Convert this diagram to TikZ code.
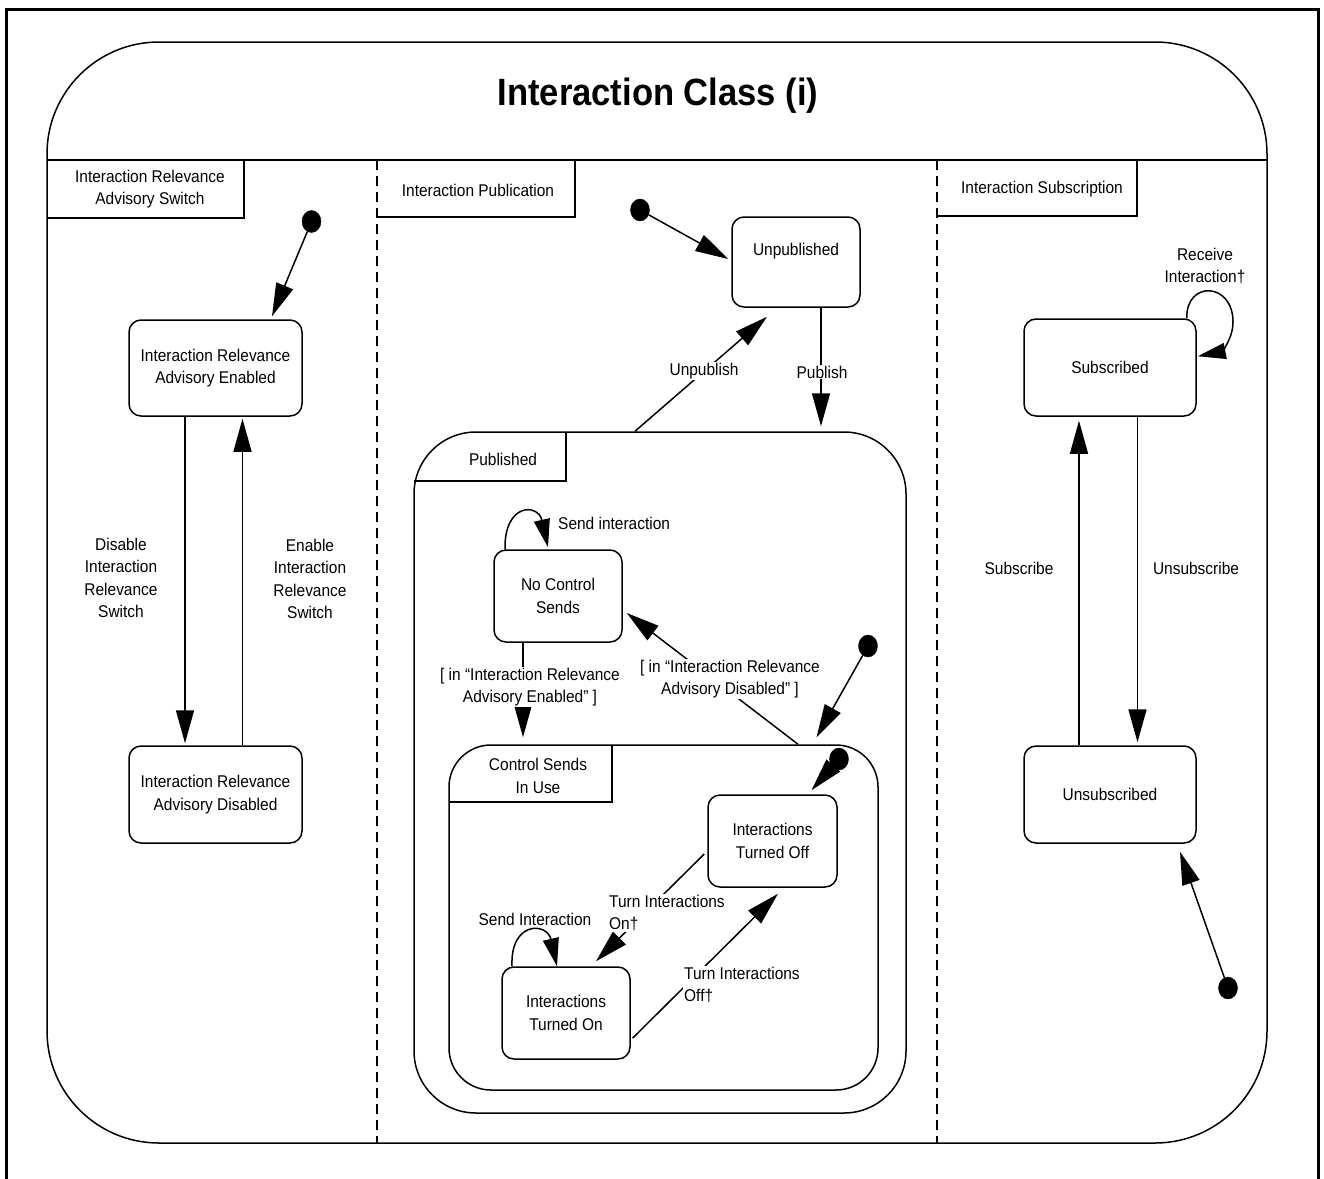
\documentclass[tikz,border=0pt]{standalone}
\usepackage{fontspec}
\setmainfont{Liberation Sans}[FakeStretch=0.91]
\usetikzlibrary{arrows.meta,shapes.geometric}
\newcommand\lblfont{\fontsize{17}{22.5}\selectfont}
\begin{document}
\begin{tikzpicture}[x=1pt,y=-1pt,
  statebox/.style={draw, line width=1.5pt, rounded corners=12pt, inner sep=0pt, align=center, font=\lblfont},
  compound/.style={draw, line width=1.5pt, inner sep=0pt},
  initdot/.style={ellipse, fill=black, draw=black, minimum width=19pt, minimum height=22pt, inner sep=0pt},
  trans/.style={line width=1.5pt, -{Triangle[length=33pt,width=18pt]}},
  selftrans/.style={line width=1.5pt, -{Triangle[length=28pt,width=16pt]}},
  lbl/.style={font=\lblfont, align=center, inner sep=1pt},
  wlbl/.style={lbl, fill=white},
  tabline/.style={line width=1.5pt},
  lane/.style={line width=1.5pt, dash pattern=on 10pt off 6pt},
]
\useasboundingbox (0,0) rectangle (1324,1178);

% page frame (open at the bottom)
\draw[line width=3pt] (6.5,1180) -- (6.5,9.5) -- (1318.5,9.5) -- (1318.5,1180);

% the interaction class state and its title compartment
\node[compound, rounded corners=112pt, minimum width=1220pt, minimum height=1101pt] (iclass) at (657,592.5) {};
\draw[tabline] (47,160) -- (1267,160);
\node[font=\fontsize{38}{40}\selectfont\bfseries, inner sep=0pt] (title) at (658,96) {Interaction Class (i)};

% concurrent regions
\draw[lane] (377,160) -- (377,1143);
\draw[lane] (937,160) -- (937,1143);

% region tabs
\draw[tabline] (47,218) -- (244,218) -- (244,160);
\node[lbl] (tabswitch) at (150,189) {Interaction Relevance\\Advisory Switch};
\draw[tabline] (377,217) -- (575,217) -- (575,160);
\node[lbl] (tabpub) at (478,190) {Interaction Publication};
\draw[tabline] (937,216) -- (1137,216) -- (1137,160);
\node[lbl] (tabsub) at (1042,189) {Interaction Subscription};

% ---------------- relevance advisory switch ----------------
\node[initdot] (dswitch) at (311.5,221.5) {};
\node[statebox, minimum width=173pt, minimum height=96pt] (enabled) at (215.5,368) {Interaction Relevance\\Advisory Enabled};
\node[statebox, minimum width=173pt, minimum height=97pt] (disabled) at (215.5,794.5) {Interaction Relevance\\Advisory Disabled};
\draw[trans] (dswitch) -- ([xshift=56.5pt,yshift=3pt]enabled.north);
\draw[trans] ([xshift=-30.5pt]enabled.south) -- ([xshift=-30.5pt,yshift=2pt]disabled.north);
\draw[trans] ([xshift=27pt]disabled.north) -- ([xshift=27pt,yshift=-2pt]enabled.south);
\node[lbl] (ldisable) at (121,578) {Disable\\Interaction\\Relevance\\Switch};
\node[lbl] (lenable) at (310,579) {Enable\\Interaction\\Relevance\\Switch};

% ---------------- publication ----------------
\node[initdot] (dpub) at (640,210) {};
\node[statebox, minimum width=128pt, minimum height=90pt,
      label={[lbl, yshift=11pt]center:Unpublished}] (unpub) at (796,262) {};
\node[compound, rounded corners=62pt, minimum width=492pt, minimum height=681pt] (published) at (660,772.5) {};
\draw[tabline] (414,481) -- (566,481) -- (566,432);
\node[lbl] (tabpublished) at (503,459) {Published};

\draw[trans] (dpub) -- ([xshift=-3pt,yshift=3pt]unpub.west);
\draw[trans] ([xshift=25pt]unpub.south) -- ([xshift=161pt,yshift=5pt]published.north);
\draw[trans] ([xshift=-25pt]published.north) -- ([xshift=-29pt,yshift=-9pt]unpub.south);
\node[wlbl] (lpublish) at (822,372) {Publish};
\node[wlbl] (lunpublish) at (704,371) {Unpublish};

\node[statebox, minimum width=128pt, minimum height=92pt] (nocontrol) at (558,596) {No Control\\Sends};
\draw[selftrans] ([xshift=-53pt]nocontrol.north) .. controls (504,503) and (538,503) .. ([xshift=-10pt,yshift=2pt]nocontrol.north);
\node[lbl, anchor=west] (lsend) at (557,523) {Send interaction};

\node[compound, rounded corners=42pt, minimum width=429pt, minimum height=345pt] (csinuse) at (663.5,917.5) {};
\draw[tabline] (449,802) -- (612,802) -- (612,745);
\node[lbl] (tabcs) at (538,776) {Control Sends\\In Use};

\node[initdot] (dcs) at (868,646) {};
\draw[trans] (dcs) -- ([xshift=153pt,yshift=7pt]csinuse.north);
\draw[trans] ([xshift=-35pt]nocontrol.south) -- ([xshift=-140.5pt,yshift=7pt]csinuse.north);
\draw[trans] ([xshift=134.5pt]csinuse.north) -- ([xshift=4pt,yshift=-17pt]nocontrol.east);
\node[wlbl] (lguardon) at (530,687) {[ in “Interaction Relevance\\Advisory Enabled” ]};
\node[wlbl] (lguardoff) at (730,679) {[ in “Interaction Relevance\\Advisory Disabled” ]};

\node[statebox, minimum width=129pt, minimum height=92pt] (turnedoff) at (772.5,841) {Interactions\\Turned Off};
\node[statebox, minimum width=128pt, minimum height=92pt] (turnedon) at (566,1013) {Interactions\\Turned On};
\node[initdot] (dinner) at (839,759) {};
\draw[trans] (dinner) -- ([xshift=39pt,yshift=4pt]turnedoff.north);

\draw[selftrans] ([xshift=-54pt]turnedon.north) .. controls (510,921) and (547,922) .. ([xshift=-9pt]turnedon.north);
\node[lbl] (lsendint) at (535,919) {Send Interaction};

\draw[trans] ([xshift=-3pt,yshift=-13pt]turnedoff.west) -- ([xshift=30pt,yshift=5pt]turnedon.north);
\draw[trans] ([xshift=2pt,yshift=-25pt]turnedon.east) -- ([xshift=5.5pt,yshift=-6pt]turnedoff.south);
\node[wlbl, align=left, anchor=west] (lturnon) at (608,913) {Turn Interactions\\On†};
\node[wlbl, align=left, anchor=west] (lturnoff) at (683,985) {Turn Interactions\\Off†};

% ---------------- subscription ----------------
\node[statebox, minimum width=172pt, minimum height=97pt] (subscribed) at (1110,367.5) {Subscribed};
\node[statebox, minimum width=172pt, minimum height=97pt] (unsub) at (1110,794.5) {Unsubscribed};
\node[initdot] (dsub) at (1228,988) {};
\draw[trans] (dsub) -- ([xshift=70pt,yshift=-8pt]unsub.south);
\draw[trans] ([xshift=-31pt]unsub.north) -- ([xshift=-31pt,yshift=-4pt]subscribed.south);
\draw[trans] ([xshift=27.5pt]subscribed.south) -- ([xshift=27.5pt,yshift=3pt]unsub.north);
\node[lbl] (lsubscribe) at (1019,568) {Subscribe};
\node[lbl] (lunsubscribe) at (1196,568) {Unsubscribe};

\coordinate (loopturn) at (1233,322);
\draw[selftrans] ([xshift=-10pt]subscribed.north east) .. controls (1186,280) and (1233,282) .. (loopturn)
  .. controls (1233,340) and (1220,352) .. ([xshift=1pt,yshift=-38pt]subscribed.north east);
\node[lbl] (lreceive) at (1205,266) {Receive\\Interaction†};

\end{tikzpicture}
\end{document}
